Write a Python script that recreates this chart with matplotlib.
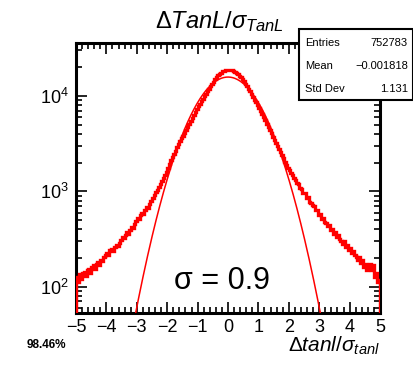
import numpy as np
import matplotlib
matplotlib.use("Agg")
import matplotlib.pyplot as plt
from matplotlib.ticker import LogLocator, MultipleLocator, NullFormatter

plt.rcParams['font.family'] = ['Liberation Sans', 'DejaVu Sans']
plt.rcParams['mathtext.fontset'] = 'custom'
plt.rcParams['mathtext.rm'] = 'Liberation Sans'
plt.rcParams['mathtext.it'] = 'Liberation Sans:italic'
plt.rcParams['mathtext.bf'] = 'Liberation Sans:bold'

# ---- data ----
x_min, x_max, n_bins = -5.0, 5.0, 200
counts = [
    # -5.0 .. -4.5
    125, 112, 135, 120, 138, 142, 130, 150, 155, 140,
    # -4.5 .. -4.0
    160, 168, 152, 175, 180, 170, 192, 185, 205, 214,
    # -4.0 .. -3.5
    228, 215, 240, 248, 235, 262, 275, 268, 290, 310,
    # -3.5 .. -3.0
    330, 322, 352, 375, 360, 398, 420, 410, 455, 490,
    # -3.0 .. -2.5
    520, 510, 560, 600, 585, 640, 690, 675, 745, 800,
    # -2.5 .. -2.0
    860, 905, 980, 1030, 1120, 1180, 1290, 1370, 1480, 1600,
    # -2.0 .. -1.5
    1770, 1920, 2110, 2280, 2480, 2670, 2900, 3110, 3360, 3600,
    # -1.5 .. -1.0
    3840, 4120, 4440, 4760, 5110, 5470, 5880, 6290, 6760, 7220,
    # -1.0 .. -0.5
    7780, 8250, 8790, 9320, 9930, 10520, 11200, 11880, 12620, 13380,
    # -0.5 .. 0.0
    14100, 14900, 15720, 16420, 17100, 17620, 18120, 18450, 18730, 18820,
    # 0.0 .. 0.5
    18840, 18700, 18520, 18180, 17810, 17390, 16960, 16380, 15810, 15120,
    # 0.5 .. 1.0
    14340, 13520, 12680, 11940, 11190, 10430, 9760, 9170, 8560, 8040,
    # 1.0 .. 1.5
    7520, 6950, 6460, 5960, 5540, 5110, 4750, 4380, 4060, 3740,
    # 1.5 .. 2.0
    3470, 3210, 2990, 2760, 2580, 2380, 2220, 2040, 1910, 1760,
    # 2.0 .. 2.5
    1680, 1560, 1490, 1370, 1330, 1210, 1180, 1080, 1060, 960,
    # 2.5 .. 3.0
    950, 860, 865, 780, 760, 712, 705, 630, 645, 565,
    # 3.0 .. 3.5
    580, 515, 520, 482, 470, 430, 442, 390, 402, 358,
    # 3.5 .. 4.0
    372, 330, 345, 318, 305, 282, 298, 262, 276, 244,
    # 4.0 .. 4.5
    256, 224, 238, 215, 206, 192, 205, 176, 190, 162,
    # 4.5 .. 5.0
    175, 150, 165, 172, 148, 168, 125, 140, 112, 118,
]
fit_amp, fit_mean, fit_sigma = 15800.0, 0.0, 0.9
stats_labels = ["Entries", "Mean", "Std Dev"]
stats_values = ["752783", "\u22120.001818", "1.131"]
x_ticks = [-5, -4, -3, -2, -1, 0, 1, 2, 3, 4, 5]
y_lim = (53, 35950)

edges = np.linspace(x_min, x_max, n_bins + 1)
xf = np.linspace(x_min, x_max, 400)
yf = fit_amp * np.exp(-0.5 * ((xf - fit_mean) / fit_sigma) ** 2)

W, H = 414, 370
fig = plt.figure(figsize=(W / 100, H / 100), dpi=100)
L, R, T, B = 76, 380, 43, 313
ax = fig.add_axes([L / W, 1 - B / H, (R - L) / W, (B - T) / H])

ax.stairs(counts, edges, baseline=1, color='red', lw=2.4, zorder=3)
ax.plot(xf, yf, color='red', lw=1.1, zorder=4)

ax.set_yscale('log')
ax.set_xlim(x_min, x_max)
ax.set_ylim(*y_lim)
ax.set_xticks(x_ticks)
ax.xaxis.set_minor_locator(MultipleLocator(0.2))
ax.yaxis.set_major_locator(LogLocator(base=10, numticks=10))
ax.yaxis.set_minor_locator(LogLocator(base=10, subs=np.arange(2, 10), numticks=20))
ax.yaxis.set_minor_formatter(NullFormatter())
ax.set_xticklabels([("\u2212%d" % -v) if v < 0 else str(v) for v in x_ticks])

ax.tick_params(which='both', direction='in', top=True, right=True, width=1.2, colors='black')
ax.tick_params(which='major', length=8, labelsize=13)
ax.tick_params(which='minor', length=4)
ax.tick_params(axis='x', which='major', pad=4)
ax.tick_params(axis='y', which='major', pad=5)
for s in ax.spines.values():
    s.set_linewidth(2.2)

fig.text(219 / W, 1 - 28.5 / H, r'$\mathit{\Delta TanL/\sigma_{TanL}}$', ha='center', va='baseline', fontsize=17)
fig.text(380 / W, 1 - 352 / H, r'$\mathit{\Delta tanl/\sigma_{tanl}}$', ha='right', va='baseline', fontsize=15)
fig.text(222 / W, 1 - 289 / H, '\u03c3 = 0.9', ha='center', va='baseline', fontsize=22)
fig.text(27 / W, 1 - 347.5 / H, '98.46%', ha='left', va='baseline', fontsize=8.5, fontweight='bold')

# stats box
bx0, bx1, by0, by1 = 299, 413, 29, 100
box = plt.Rectangle((bx0 / W, 1 - by1 / H), (bx1 - bx0) / W, (by1 - by0) / H,
                    transform=fig.transFigure, facecolor='white', edgecolor='black', lw=1.5, zorder=10)
fig.add_artist(box)
rows_y = [42.7, 66, 89.3]
for lab, val, yy in zip(stats_labels, stats_values, rows_y):
    fig.text(305 / W, 1 - yy / H, lab, ha='left', va='center', fontsize=8, zorder=11)
    fig.text(408 / W, 1 - yy / H, val, ha='right', va='center', fontsize=8, zorder=11)

fig.savefig('out.png', dpi=100)
